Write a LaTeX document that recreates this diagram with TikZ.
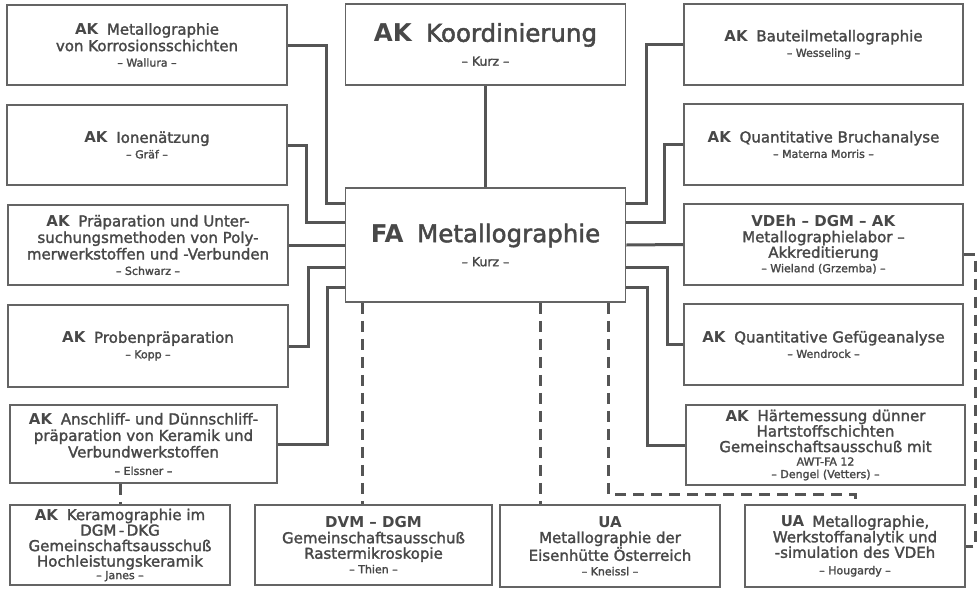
\documentclass[tikz,border=0pt]{standalone}
\usepackage{fontspec}
\setmainfont{DejaVu Sans}[UprightFeatures={FakeBold=1.8}]
\definecolor{txt}{RGB}{72,72,72}
\definecolor{lin}{RGB}{85,85,85}
\definecolor{brd}{RGB}{100,100,100}
\newcommand\AKx{\textbf{AK}\hspace{0.55em}}
\newcommand\UAx{\textbf{UA}\hspace{0.55em}}
\newcommand\smx{\fontsize{11}{12}\selectfont}
\newcommand\smbx{\fontsize{12.5}{13}\selectfont}
\begin{document}
\begin{tikzpicture}[x=1pt,y=-1pt,
  box/.style={draw=brd, line width=1.8pt, rectangle, inner sep=0pt, align=center, text=txt,
    font=\fontsize{15}{16.5}\selectfont, minimum width=280pt, minimum height=80pt},
  tight/.style={font=\fontsize{15}{15.5}\selectfont},
  big/.style={font=\fontsize{24.5}{25}\selectfont},
  conn/.style={draw=lin, line width=3pt},
  dconn/.style={draw=lin, line width=3pt, dash pattern=on 11pt off 7pt}
]
\fill[white] (0,0) rectangle (977,589);
\useasboundingbox (0,0) rectangle (977,589);

% top centre
\node[box, big, minimum height=81pt] (K) at (485.5,44.5)
  {\AKx Koordinierung\\[-1pt]{\smbx – Kurz –}};
\node[box, big, minimum height=114pt] (FA) at (485.5,245)
  {\textbf{FA}\hspace{0.55em}Metallographie\\[-1pt]{\smbx – Kurz –}};

% left column
\node[box] (L1) at (147,45)
  {\AKx Metallographie\\von Korrosionsschichten\\[-1pt]{\smx – Wallura –}};
\node[box] (L2) at (147,145)
  {\AKx Ionenätzung\\[-1pt]{\smx – Gräf –}};
\node[box] (L3) at (148,245)
  {\AKx Präparation und Unter-\\suchungsmethoden von Poly-\\merwerkstoffen und -Verbunden\\[-1pt]{\smx – Schwarz –}};
\node[box, minimum height=82pt] (L4) at (148,346)
  {\AKx Probenpräparation\\[-1pt]{\smx – Kopp –}};
\node[box, minimum width=267pt, minimum height=78pt] (L5) at (143.5,444)
  {\AKx Anschliff- und Dünnschliff-\\präparation von Keramik und\\Verbundwerkstoffen\\[1pt]{\smx – Elssner –}};
\node[box, tight, minimum width=220pt] (L6) at (120,545)
  {\AKx Keramographie im\\DGM\,-\,DKG\\Gemeinschaftsausschuß\\Hochleistungskeramik\\[-3pt]{\smx – Janes –}};

% bottom row
\node[box, tight, minimum width=237pt] (B2) at (373.5,545)
  {\textbf{DVM – DGM}\\Gemeinschaftsausschuß\\Rastermikroskopie\\[-1pt]{\smx – Thien –}};
\node[box, tight, minimum width=220pt, minimum height=82pt] (B3) at (610,546)
  {\textbf{UA}\\Metallographie der\\Eisenhütte Österreich\\[-1pt]{\smx – Kneissl –}};
\node[box, tight, minimum width=220pt, minimum height=82pt] (B4) at (855,546)
  {\UAx Metallographie,\\Werkstoffanalytik und\\-simulation des VDEh\\[1pt]{\smx – Hougardy –}};

% right column
\node[box, minimum width=279pt, minimum height=81pt] (R1) at (823.5,44.5)
  {\AKx Bauteilmetallographie\\[-1pt]{\smx – Wesseling –}};
\node[box, minimum width=279pt, minimum height=81pt] (R2) at (823.5,144.5)
  {\AKx Quantitative Bruchanalyse\\[-1pt]{\smx – Materna Morris –}};
\node[box, tight, minimum width=279pt, minimum height=81pt] (R3) at (823.5,244.5)
  {\textbf{VDEh – DGM – AK}\\Metallographielabor –\\Akkreditierung\\[-1pt]{\smx – Wieland (Grzemba) –}};
\node[box, minimum width=279pt, minimum height=81pt] (R4) at (823.5,344.5)
  {\AKx Quantitative Gefügeanalyse\\[-1pt]{\smx – Wendrock –}};
\node[box, tight, minimum width=279pt, minimum height=80pt] (R5) at (825.5,445)
  {\AKx Härtemessung dünner\\Hartstoffschichten\\Gemeinschaftsausschuß mit\\[-2pt]{\smx AWT-FA 12}\\[-3pt]{\smx – Dengel (Vetters) –}};

% solid connectors
\draw[conn] (K.south) -- (FA.north);
\draw[conn] (L1.east) -- ++(39,0) |- ([yshift=42pt]FA.west);
\draw[conn] (L2.east) -- ++(19,0) |- ([yshift=23pt]FA.west);
\draw[conn] (L3.east) -- (FA.west);
\draw[conn] (L4.east) -- ++(20,0) |- ([yshift=-22pt]FA.west);
\draw[conn] (L5.east) -- ++(50,0) |- ([yshift=-42pt]FA.west);
\draw[conn] (R1.west) -- ++(-37,0) |- ([yshift=42pt]FA.east);
\draw[conn] (R2.west) -- ++(-19,0) |- ([yshift=23pt]FA.east);
\draw[conn] (R3.west) -- (FA.east);
\draw[conn] (R4.west) -- ++(-16,0) |- ([yshift=-22pt]FA.east);
\draw[conn] (R5.west) -- ++(-38,0) |- ([yshift=-42pt]FA.east);

% dashed connectors
\draw[dconn] ([xshift=-123pt]FA.south) coordinate (d1) -- (d1 |- B2.north);
\draw[dconn] ([xshift=55pt]FA.south) coordinate (d2) -- (d2 |- B3.north);
\draw[dconn] ([xshift=123pt]FA.south) |- ([yshift=10pt]B4.north) -- (B4.north);
\draw[dconn] (L6.north |- L5.south) -- (L6.north);
\draw[dconn] ([yshift=-10pt]R3.east) -- ++(12,0) |- (B4.east);
\end{tikzpicture}
\end{document}
